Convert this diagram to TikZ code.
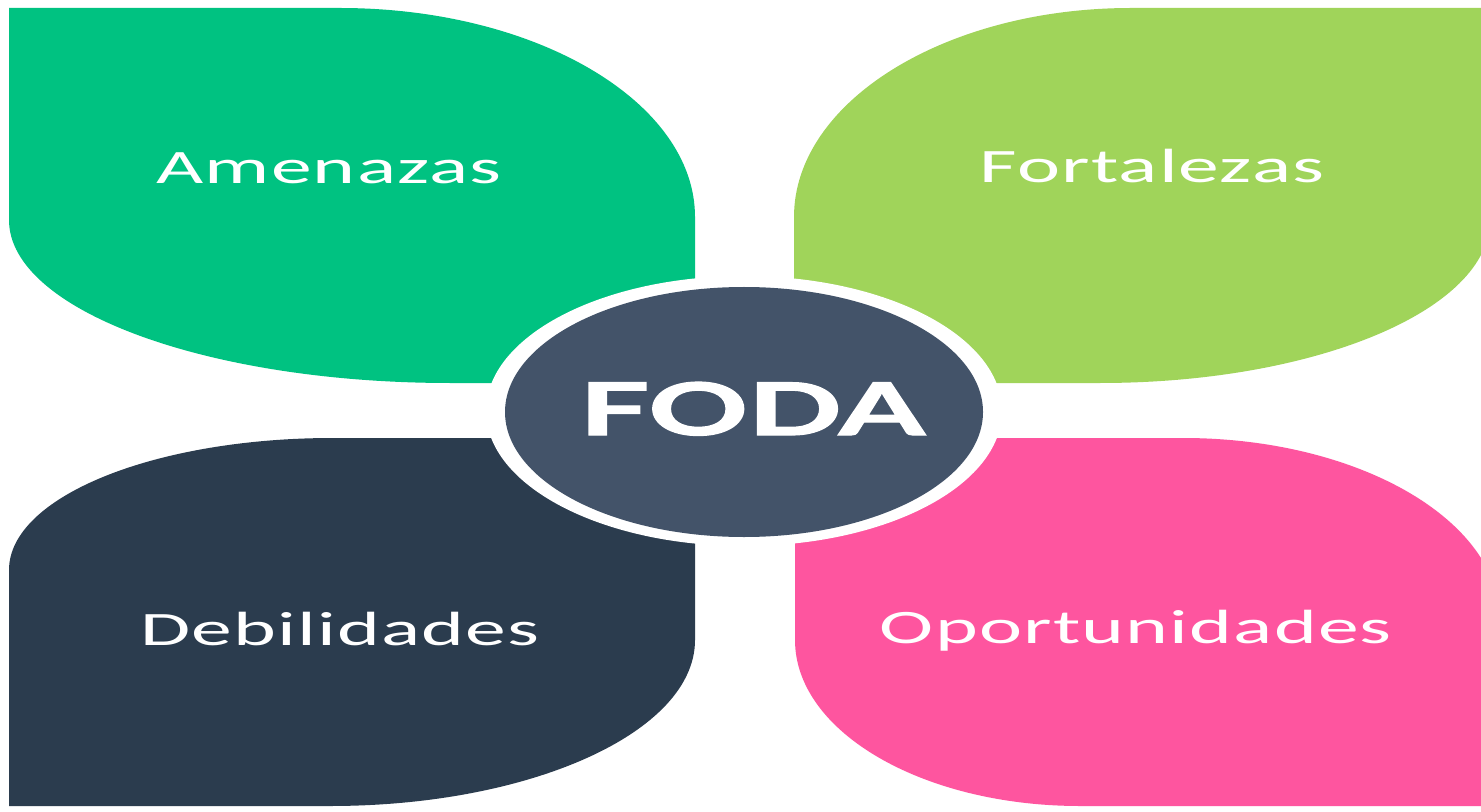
\documentclass[tikz,border=0pt]{standalone}
\usepackage{fontspec}
\usepackage{graphicx}
\setmainfont[LetterSpace=1.5]{Carlito}
\newfontfamily\fodafont[FakeBold=1.6]{Lato}
\usetikzlibrary{shapes.geometric}
\definecolor{amenC}{HTML}{00C281}
\definecolor{fortC}{HTML}{A0D45A}
\definecolor{debiC}{HTML}{2B3C4E}
\definecolor{oporC}{HTML}{FE559F}
\definecolor{coreC}{HTML}{435369}
\begin{document}
\begin{tikzpicture}[x=0.5pt,y=-0.5pt,
  lbl/.style={text=white, inner sep=0pt, anchor=base, font=\fontsize{24}{28}\selectfont}]
\useasboundingbox (0,0) rectangle (1481,812);
\fill[white] (0,0) rectangle (1481,812);
\begin{scope}
\clip (0,0) rectangle (1481,812);
% Amenazas (top-left)
\fill[amenC] (9,8) -- (340,8) .. controls (536,8) and (695,102) .. (695,217)
  -- (695,383) -- (450,383) .. controls (207,383) and (9,310) .. (9,220) -- cycle;
% Fortalezas (top-right)
\fill[fortC] (1490,8) -- (1131,8) .. controls (945,8) and (794,102) .. (794,217)
  -- (794,383) -- (1100,383) .. controls (1315,383) and (1490,310) .. (1490,220) -- cycle;
% Debilidades (bottom-left)
\fill[debiC] (9,806) -- (9,570) .. controls (9,497) and (154,438) .. (333,438)
  -- (695,438) -- (695,640) .. controls (695,732) and (531,806) .. (330,806) -- cycle;
% Oportunidades (bottom-right)
\fill[oporC] (795,438) -- (1183,438) .. controls (1358,438) and (1500,520) .. (1500,620)
  -- (1500,806) -- (1080,806) .. controls (923,806) and (795,732) .. (795,640) -- cycle;
\end{scope}
% centre
\node[ellipse, fill=white, inner sep=0pt, minimum width=258pt, minimum height=135pt] (ring) at (744,411) {};
\node[ellipse, fill=coreC, inner sep=0pt, minimum width=239pt, minimum height=125pt] (core) at (744,412) {};
\node[text=white, inner sep=0pt, anchor=base] (foda) at (752,435) {\resizebox{172.5pt}{26.5pt}{\fodafont\bfseries FODA}};
% labels
\node[lbl] (amen) at (329,184) {\scalebox{1.7}[1]{Amenazas}};
\node[lbl] (fort) at (1152,183) {\scalebox{1.7}[1]{Fortalezas}};
\node[lbl] (debi) at (340,645) {\scalebox{1.7}[1]{Debilidades}};
\node[lbl] (opor) at (1136,643) {\scalebox{1.7}[1]{Oportunidades}};
\end{tikzpicture}
\end{document}
